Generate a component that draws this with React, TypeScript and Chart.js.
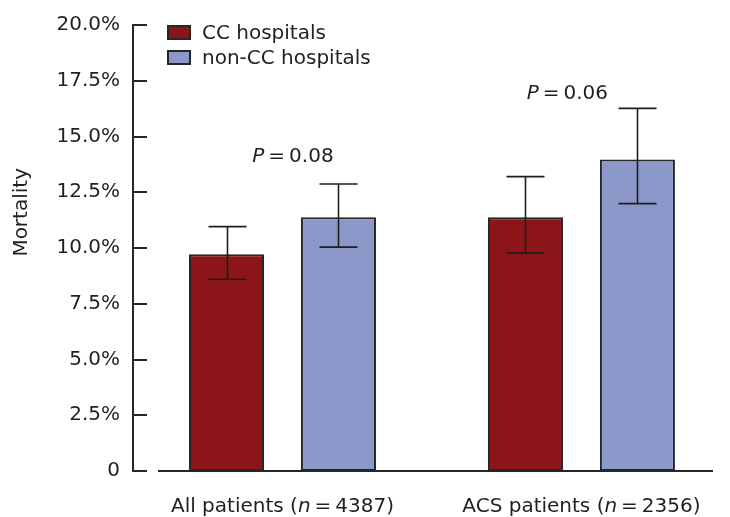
import React, { useEffect, useRef } from 'react';
import { Chart, registerables } from 'chart.js';

Chart.register(...registerables);

// ---- data ----
const categories = ['All patients', 'ACS patients'];
const sampleSizes = ['4387', '2356'];
const seriesLabels = ['CC hospitals', 'non-CC hospitals'];
const ccMortality = [9.72, 11.38];
const ccLower = [8.6, 9.77];
const ccUpper = [10.96, 13.2];
const nonCcMortality = [11.38, 13.97];
const nonCcLower = [10.04, 11.99];
const nonCcUpper = [12.87, 16.26];
const pValues = ['0.08', '0.06'];
const pLabelOffsets = [0.035, -0.047]; // x offset from group centre (axis units)
const pLabelLevels = [13.84, 16.7]; // baseline level (mortality %)
const yTickValues = [0, 2.5, 5, 7.5, 10, 12.5, 15, 17.5, 20];

const FONT = '"DejaVu Sans", sans-serif';
const TEXT = '#231f20';
const LINE = '#262626';
const RED = '#8b1518';
const BLUE = '#8c98c9';

function drawMixed(ctx: CanvasRenderingContext2D, parts: { t: string; italic?: boolean }[], cx: number, baseline: number, size: number) {
  const widths = parts.map((p) => {
    ctx.font = `${p.italic ? 'italic ' : ''}${size}px ${FONT}`;
    return ctx.measureText(p.t).width;
  });
  const total = widths.reduce((a, b) => a + b, 0);
  let x = cx - total / 2;
  ctx.textAlign = 'left';
  ctx.textBaseline = 'alphabetic';
  parts.forEach((p, i) => {
    ctx.font = `${p.italic ? 'italic ' : ''}${size}px ${FONT}`;
    ctx.fillText(p.t, x, baseline);
    x += widths[i];
  });
}

const decorPlugin = {
  id: 'decor',
  afterDatasetsDraw(chart: any) {
    const { ctx, chartArea, scales } = chart;
    const xs = scales.x;
    const ys = scales.y;
    ctx.save();
    ctx.strokeStyle = LINE;
    ctx.lineWidth = 2;
    // inward tick marks
    ys.ticks.forEach((t: any) => {
      const py = Math.round(ys.getPixelForValue(t.value));
      ctx.beginPath();
      ctx.moveTo(chartArea.left, py);
      ctx.lineTo(chartArea.left + 14, py);
      ctx.stroke();
    });
    // x axis line (detached from the y axis)
    const y0 = Math.round(ys.getPixelForValue(0));
    ctx.beginPath();
    ctx.moveTo(chartArea.left + 25, y0);
    ctx.lineTo(chartArea.right, y0);
    ctx.stroke();

    // error bars
    ctx.lineWidth = 1.6;
    ctx.strokeStyle = '#1e1e1e';
    chart.data.datasets.forEach((ds: any, di: number) => {
      const meta = chart.getDatasetMeta(di);
      meta.data.forEach((bar: any, i: number) => {
        const bx = Math.round(bar.x) + 0.5;
        const yl = ys.getPixelForValue(ds.errLow[i]);
        const yh = ys.getPixelForValue(ds.errHigh[i]);
        ctx.beginPath();
        ctx.moveTo(bx, yl);
        ctx.lineTo(bx, yh);
        ctx.moveTo(bx - 19, yh);
        ctx.lineTo(bx + 19, yh);
        ctx.moveTo(bx - 19, yl);
        ctx.lineTo(bx + 19, yl);
        ctx.stroke();
      });
    });

    ctx.fillStyle = TEXT;
    // P values
    pValues.forEach((p, i) => {
      const cx = xs.getPixelForValue(i + 1 + pLabelOffsets[i]);
      const by = ys.getPixelForValue(pLabelLevels[i]);
      drawMixed(ctx, [{ t: 'P', italic: true }, { t: '\u2009=\u2009' + p }], cx, by, 20);
    });

    // category labels
    categories.forEach((c, i) => {
      const cx = xs.getPixelForValue(i + 1);
      drawMixed(ctx, [{ t: c + ' (' }, { t: 'n', italic: true }, { t: '\u2009=\u2009' + sampleSizes[i] + ')' }], cx, chartArea.bottom + 41, 20);
    });

    // y title
    ctx.save();
    ctx.translate(22, chartArea.top + (chartArea.bottom - chartArea.top) * 0.42);
    ctx.rotate(-Math.PI / 2);
    ctx.font = `20px ${FONT}`;
    ctx.textAlign = 'center';
    ctx.textBaseline = 'middle';
    ctx.fillText('Mortality', 0, 0);
    ctx.restore();

    // legend
    chart.data.datasets.forEach((ds: any, di: number) => {
      const lx = chartArea.left + 35;
      const top = chartArea.top + 1 + di * 25;
      ctx.fillStyle = ds.backgroundColor;
      ctx.fillRect(lx, top, 22, 13);
      ctx.lineWidth = 2;
      ctx.strokeStyle = LINE;
      ctx.strokeRect(lx, top, 22, 13);
      ctx.fillStyle = TEXT;
      ctx.font = `20px ${FONT}`;
      ctx.textAlign = 'left';
      ctx.textBaseline = 'alphabetic';
      ctx.fillText(ds.label, lx + 34, top + 12.5);
    });
    ctx.restore();
  },
};

export default function App() {
  const canvasRef = useRef<HTMLCanvasElement | null>(null);

  useEffect(() => {
    if (!canvasRef.current) return;
    const chart = new Chart(canvasRef.current, {
      type: 'bar',
      data: {
        labels: categories.map((_, i) => i + 1),
        datasets: [
          {
            label: seriesLabels[0],
            data: ccMortality,
            errLow: ccLower,
            errHigh: ccUpper,
            backgroundColor: RED,
            borderColor: LINE,
            borderWidth: 2,
            borderSkipped: false,
          } as any,
          {
            label: seriesLabels[1],
            data: nonCcMortality,
            errLow: nonCcLower,
            errHigh: nonCcUpper,
            backgroundColor: BLUE,
            borderColor: LINE,
            borderWidth: 2,
            borderSkipped: false,
          } as any,
        ],
      },
      options: {
        animation: false,
        responsive: true,
        maintainAspectRatio: false,
        categoryPercentage: 0.749,
        barPercentage: 0.67,
        layout: { padding: { left: 0, right: 17, top: 24, bottom: 46 } },
        plugins: { legend: { display: false }, tooltip: { enabled: false } },
        scales: {
          x: {
            type: 'linear',
            display: false,
            offset: false,
            grid: { offset: false },
            min: 0.5,
            max: 2.44,
            afterBuildTicks: (scale: any) => {
              scale.ticks = categories.map((_, i) => ({ value: i + 1 }));
            },
          },
          y: {
            min: 0,
            max: 20,
            afterBuildTicks: (scale: any) => {
              scale.ticks = yTickValues.map((v) => ({ value: v }));
            },
            afterFit: (scale: any) => {
              scale.width = 133;
            },
            grid: { display: false, drawTicks: false },
            border: { display: true, color: LINE, width: 2 },
            ticks: {
              padding: 13,
              color: TEXT,
              font: { family: FONT, size: 20 },
              callback: (v: any) => (Number(v) === 0 ? '0' : Number(v).toFixed(1) + '%'),
            },
          },
        },
      } as any,
      plugins: [decorPlugin],
    });
    return () => chart.destroy();
  }, []);

  return (
    <div style={{ position: 'fixed', left: 0, top: 0, width: 730, height: 517, background: '#fff' }}>
      <canvas ref={canvasRef} />
    </div>
  );
}
